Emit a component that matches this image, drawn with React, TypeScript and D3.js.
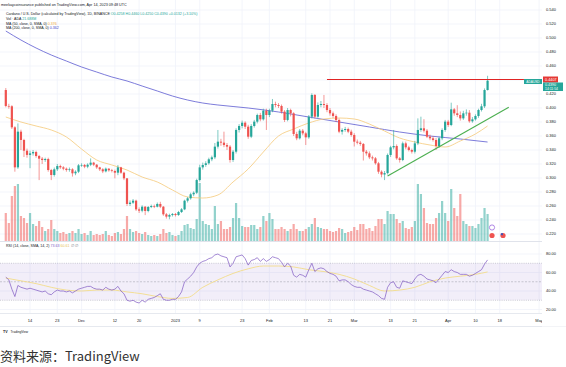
import React from "react";
import * as d3 from "d3";

const width = 566;
const height = 367;
const plotRight = 542;

// daily candles, first day 2022-11-06 (UTC)
const startDate = new Date(Date.UTC(2022, 10, 6));
const firstOpen = 0.4257;
const closes = [
  0.4029, 0.4025, 0.3724, 0.3152, 0.3662, 0.3543, 0.339, 0.333, 0.3352, 0.3371,
  0.3314, 0.3276, 0.3257, 0.3271, 0.3114, 0.3043, 0.3124, 0.3171, 0.3152, 0.3133,
  0.3114, 0.3124, 0.3067, 0.309, 0.3181, 0.3186, 0.3162, 0.319, 0.3219, 0.319,
  0.3152, 0.3124, 0.3095, 0.3133, 0.311, 0.31, 0.3076, 0.3152, 0.3076, 0.2995,
  0.2629, 0.2648, 0.2676, 0.2552, 0.2533, 0.259, 0.2529, 0.2586, 0.26, 0.259,
  0.2629, 0.259, 0.2481, 0.2448, 0.2471, 0.2486, 0.2471, 0.2514, 0.2552, 0.2676,
  0.271, 0.2767, 0.279, 0.2971, 0.3152, 0.3186, 0.321, 0.3267, 0.3295, 0.3448,
  0.3519, 0.3505, 0.3471, 0.3448, 0.3257, 0.3376, 0.3686, 0.3743, 0.379, 0.3733,
  0.359, 0.3743, 0.3805, 0.39, 0.3838, 0.3962, 0.39, 0.3962, 0.4057, 0.4043,
  0.4029, 0.3948, 0.3829, 0.3971, 0.3924, 0.3629, 0.3567, 0.3676, 0.3638, 0.3581,
  0.3876, 0.4186, 0.3876, 0.4043, 0.4057, 0.4043, 0.3971, 0.3924, 0.3886, 0.3829,
  0.3662, 0.3686, 0.37, 0.3662, 0.3614, 0.3519, 0.3505, 0.3486, 0.3376, 0.3352,
  0.3295, 0.3281, 0.321, 0.309, 0.305, 0.307, 0.3329, 0.3438, 0.3457, 0.3281,
  0.3257, 0.3495, 0.3438, 0.34, 0.3376, 0.3495, 0.3686, 0.371, 0.3676, 0.359,
  0.3567, 0.3543, 0.3457, 0.3567, 0.3686, 0.3805, 0.3757, 0.3981, 0.3924, 0.39,
  0.3852, 0.3924, 0.3933, 0.381, 0.3838, 0.3886, 0.3971, 0.4024, 0.4257, 0.439,
];
const highs = [
  0.4285, 0.406, 0.404, 0.374, 0.378, 0.369, 0.356, 0.342, 0.339, 0.34,
  0.339, 0.333, 0.33, 0.329, 0.329, 0.313, 0.315, 0.32, 0.319, 0.317,
  0.315, 0.315, 0.314, 0.311, 0.32, 0.321, 0.32, 0.321, 0.328, 0.323,
  0.32, 0.316, 0.314, 0.315, 0.314, 0.313, 0.312, 0.3186, 0.316, 0.309,
  0.3, 0.268, 0.27, 0.269, 0.258, 0.261, 0.26, 0.26, 0.262, 0.262,
  0.265, 0.266, 0.26, 0.25, 0.249, 0.25, 0.25, 0.253, 0.257, 0.269,
  0.273, 0.279, 0.281, 0.299, 0.319, 0.322, 0.324, 0.329, 0.332, 0.35,
  0.3686, 0.356, 0.3662, 0.35, 0.347, 0.34, 0.371, 0.377, 0.382, 0.381,
  0.376, 0.377, 0.383, 0.392, 0.393, 0.399, 0.399, 0.399, 0.4129, 0.409,
  0.407, 0.405, 0.397, 0.4, 0.399, 0.394, 0.366, 0.37, 0.37, 0.366,
  0.39, 0.421, 0.42, 0.408, 0.41, 0.4186, 0.407, 0.4, 0.395, 0.391,
  0.385, 0.371, 0.373, 0.372, 0.369, 0.364, 0.355, 0.353, 0.35, 0.34,
  0.338, 0.332, 0.33, 0.323, 0.311, 0.31, 0.335, 0.346, 0.3686, 0.348,
  0.33, 0.352, 0.352, 0.346, 0.342, 0.353, 0.3852, 0.3876, 0.384, 0.37,
  0.362, 0.36, 0.357, 0.359, 0.371, 0.383, 0.383, 0.4076, 0.4, 0.404,
  0.395, 0.396, 0.398, 0.397, 0.387, 0.391, 0.399, 0.406, 0.428, 0.446,
];
const lows = [
  0.401, 0.399, 0.37, 0.309, 0.313, 0.34, 0.33, 0.329, 0.314, 0.332,
  0.329, 0.297, 0.32, 0.323, 0.309, 0.297, 0.302, 0.31, 0.313, 0.311,
  0.309, 0.309, 0.302, 0.304, 0.307, 0.316, 0.314, 0.314, 0.317, 0.317,
  0.313, 0.31, 0.307, 0.308, 0.309, 0.308, 0.2995, 0.304, 0.306, 0.297,
  0.26, 0.26, 0.263, 0.253, 0.25, 0.251, 0.247, 0.251, 0.257, 0.257,
  0.258, 0.257, 0.246, 0.242, 0.241, 0.245, 0.245, 0.246, 0.25, 0.254,
  0.265, 0.269, 0.274, 0.277, 0.295, 0.312, 0.316, 0.319, 0.324, 0.327,
  0.342, 0.346, 0.344, 0.34, 0.322, 0.323, 0.335, 0.365, 0.371, 0.37,
  0.356, 0.357, 0.372, 0.378, 0.381, 0.382, 0.3686, 0.387, 0.394, 0.401,
  0.4, 0.392, 0.38, 0.381, 0.388, 0.36, 0.354, 0.355, 0.361, 0.3471,
  0.356, 0.385, 0.385, 0.386, 0.401, 0.4, 0.394, 0.389, 0.386, 0.38,
  0.364, 0.362, 0.366, 0.364, 0.359, 0.345, 0.348, 0.346, 0.325, 0.332,
  0.327, 0.325, 0.319, 0.306, 0.301, 0.297, 0.305, 0.33, 0.341, 0.326,
  0.322, 0.324, 0.341, 0.338, 0.335, 0.335, 0.347, 0.366, 0.365, 0.357,
  0.354, 0.352, 0.34, 0.343, 0.354, 0.366, 0.373, 0.374, 0.389, 0.387,
  0.382, 0.383, 0.389, 0.379, 0.379, 0.382, 0.386, 0.395, 0.4, 0.425,
];
// volume, millions ADA
const volumes = [
  420, 270, 675, 825, 855, 375, 345, 270, 420, 255,
  225, 300, 210, 150, 180, 315, 180, 150, 120, 135,
  105, 120, 150, 120, 180, 105, 120, 90, 150, 90,
  105, 90, 105, 150, 90, 75, 120, 135, 105, 180,
  375, 180, 135, 150, 120, 105, 135, 90, 75, 90,
  75, 105, 180, 120, 135, 90, 75, 90, 150, 240,
  255, 195, 180, 330, 870, 300, 255, 240, 180, 525,
  255, 300, 180, 180, 210, 345, 570, 345, 225, 210,
  210, 240, 240, 180, 210, 375, 300, 420, 330, 180,
  180, 210, 180, 150, 180, 255, 180, 150, 150, 180,
  210, 255, 345, 210, 195, 180, 180, 150, 135, 150,
  195, 180, 120, 135, 150, 210, 165, 255, 255, 180,
  195, 150, 225, 330, 330, 255, 450, 405, 405, 330,
  270, 300, 195, 180, 210, 300, 855, 705, 495, 270,
  255, 255, 345, 420, 600, 420, 300, 780, 495, 375,
  705, 300, 255, 225, 225, 195, 255, 345, 495, 405,
];
const rsiValues = [
  55, 52, 42, 34, 46, 44, 43, 42, 43, 42,
  41, 40, 39, 40, 37, 36, 39, 41, 40, 40,
  39, 40, 38, 40, 42, 43, 44, 45, 45, 43,
  42, 42, 41, 44, 42, 41, 42, 45, 40, 37,
  30, 29, 30, 28, 27, 30, 28, 31, 32, 33,
  35, 37, 31, 30, 30, 31, 31, 34, 39, 50,
  53, 56, 60, 66, 70, 72, 73, 75, 76, 79,
  80, 78, 77, 76, 66, 70, 77, 78, 79, 75,
  68, 73, 74, 76, 72, 75, 72, 74, 77, 76,
  75, 71, 66, 70, 67, 57, 55, 58, 57, 55,
  63, 70, 61, 64, 65, 64, 61, 59, 58, 56,
  51, 52, 52, 50, 47, 45, 44, 44, 42, 41,
  40, 39, 37, 35, 32, 31, 44, 49, 50, 44,
  43, 51, 50, 49, 48, 53, 57, 58, 56, 53,
  52, 51, 49, 53, 57, 61, 60, 63, 61, 60,
  58, 58, 58, 56, 57, 59, 61, 63, 69, 73.63,
];

// indicator lines read at sample days
const sampleDays = [0, 5, 10, 15, 20, 25, 30, 35, 40, 45, 50, 55, 60, 65, 70, 75, 80, 85, 90, 95, 100, 105, 110, 115, 120, 125, 130, 135, 140, 145, 150, 155, 159];
const ma50Values = [0.3871, 0.38, 0.3743, 0.3686, 0.3586, 0.3414, 0.3257, 0.3186, 0.3114, 0.3014, 0.2943, 0.2829, 0.2729, 0.2714, 0.2757, 0.2943, 0.3129, 0.3371, 0.36, 0.37, 0.3786, 0.3843, 0.3857, 0.3843, 0.3771, 0.3671, 0.3571, 0.3514, 0.3471, 0.3443, 0.3529, 0.3629, 0.3743];
const rsiSmaValues = [54, 51, 48, 44, 41, 40, 41, 41, 39, 37, 34, 32, 33, 44, 52, 59, 64, 67, 67, 66, 63, 61, 58, 53, 46, 40, 41, 44, 50, 54, 56, 58, 60.61];
const ma200Days = [0, 5, 10, 15, 20, 25, 30, 35, 40, 45, 50, 55, 60, 65, 70, 80, 90, 100, 110, 120, 130, 140, 150, 159];
const ma200Values = [0.51, 0.4971, 0.4857, 0.4757, 0.4671, 0.4586, 0.4514, 0.4443, 0.4386, 0.4314, 0.4243, 0.4171, 0.4114, 0.4071, 0.4043, 0.4, 0.3943, 0.3871, 0.38, 0.3729, 0.3657, 0.36, 0.3557, 0.3514];

// drawings
const trendDates = ["2023-03-12", "2023-04-21"];
const trendPrices = [0.303, 0.401];
const resistDates = ["2023-02-20", "2023-04-26"];
const resistPrice = 0.4407;

const timeTickDates = ["2022-11-14", "2022-11-23", "2022-12-01", "2022-12-12", "2022-12-20", "2023-01-01", "2023-01-09", "2023-01-23", "2023-02-01", "2023-02-13", "2023-02-21", "2023-03-01", "2023-03-13", "2023-03-21", "2023-04-01", "2023-04-10", "2023-04-18", "2023-05-01"];
const timeTickLabels = ["14", "23", "Dec", "12", "20", "2023", "9", "23", "Feb", "13", "21", "Mar", "13", "21", "Apr", "10", "18", "May"];
const priceTicks = [0.22, 0.24, 0.26, 0.28, 0.3, 0.32, 0.34, 0.36, 0.38, 0.4, 0.42, 0.44, 0.46, 0.48, 0.5, 0.52, 0.54];
const rsiTicks = [20, 40, 60, 80];

const UP = "#26a69a";
const DOWN = "#ef5350";
const GRID = "#f0f3fa";
const FONT = "'Liberation Sans', Arial, sans-serif";

const day = (i) => d3.utcDay.offset(startDate, i);
const parse = (s) => new Date(s + "T00:00:00Z");

const x = d3.scaleUtc().domain([startDate, parse("2023-05-01")]).range([5.8, 5.8 + 3.03 * 176]);
const y = d3.scaleLinear().domain([0.22, 0.54]).range([234, 10]);
const yVol = d3.scaleLinear().domain([0, 900]).range([241, 181]);
const yRsi = d3.scaleLinear().domain([20, 80]).range([309.5, 254]);

const candles = closes.map((c, i) => ({
  date: day(i),
  open: i === 0 ? firstOpen : closes[i - 1],
  close: c,
  high: highs[i],
  low: lows[i],
  volume: volumes[i],
}));

const smooth = d3.curveMonotoneX;
const maLine = d3.line().x((d) => x(day(d[0]))).y((d) => y(d[1])).curve(smooth);
const rsiLine = d3.line().x((d, i) => x(day(i))).y((d) => yRsi(d));
const rsiSmaLine = d3.line().x((d) => x(day(d[0]))).y((d) => yRsi(d[1])).curve(smooth);

const fmtPrice = d3.format(".3f");
const fmtRsi = d3.format(".2f");

export default function App() {
  const bw = 2.2;
  return (
    <div style={{ position: "absolute", left: 0, top: 0 }}>
      <svg width={width} height={height} style={{ display: "block", background: "#fff", fontFamily: FONT }}>
        {/* grid */}
        {priceTicks.map((t) => (
          <line key={"hg" + t} x1={0} x2={plotRight} y1={y(t)} y2={y(t)} stroke={GRID} strokeWidth={0.8} />
        ))}
        {rsiTicks.map((t) => (
          <line key={"rg" + t} x1={0} x2={plotRight} y1={yRsi(t)} y2={yRsi(t)} stroke={GRID} strokeWidth={0.8} />
        ))}
        {timeTickDates.map((d) => (
          <line key={"vg" + d} x1={x(parse(d))} x2={x(parse(d))} y1={0} y2={313} stroke={GRID} strokeWidth={0.8} />
        ))}

        {/* volume */}
        {candles.map((d, i) => (
          <rect key={"v" + i} x={x(d.date) - bw / 2} width={bw} y={yVol(d.volume)} height={yVol(0) - yVol(d.volume)}
            fill={d.close >= d.open ? UP : DOWN} fillOpacity={0.5} />
        ))}

        {/* moving averages */}
        <path d={maLine(ma200Days.map((dd, i) => [dd, ma200Values[i]]))} fill="none" stroke="#5c5bd1" strokeWidth={0.8} />
        <path d={maLine(sampleDays.map((dd, i) => [dd, ma50Values[i]]))} fill="none" stroke="#f5c978" strokeWidth={0.8} />

        {/* candles */}
        {candles.map((d, i) => {
          const col = d.close >= d.open ? UP : DOWN;
          const top = y(Math.max(d.open, d.close));
          const bot = y(Math.min(d.open, d.close));
          return (
            <g key={"c" + i}>
              <line x1={x(d.date)} x2={x(d.date)} y1={y(d.high)} y2={y(d.low)} stroke={col} strokeWidth={0.6} />
              <rect x={x(d.date) - bw / 2} width={bw} y={top} height={Math.max(0.6, bot - top)} fill={col} />
            </g>
          );
        })}

        {/* drawings */}
        <line x1={x(parse(trendDates[0]))} y1={y(trendPrices[0])} x2={x(parse(trendDates[1]))} y2={y(trendPrices[1])}
          stroke="#4caf50" strokeWidth={1.1} />
        <line x1={x(parse(resistDates[0]))} x2={x(parse(resistDates[1]))} y1={y(resistPrice)} y2={y(resistPrice)}
          stroke="#e02424" strokeWidth={1.1} />
        <rect x={524} y={y(resistPrice) - 0.5} width={18} height={5} fill={UP} />
        <text x={533} y={y(resistPrice) + 3.2} fontSize={3.2} fill="#fff" textAnchor="middle">ADAUSD</text>

        {/* event icons */}
        <circle cx={492} cy={227.5} r={2.6} fill="#fff" stroke="#9c6ade" strokeWidth={0.8} />
        <circle cx={492} cy={235.5} r={2.6} fill="#ef5350" />
        <circle cx={503} cy={235.5} r={2.6} fill="#ef5350" />
        <rect x={500.8} y={233.2} width={2.2} height={2} fill="#3f51b5" />

        {/* pane separators */}
        <line x1={0} x2={width} y1={241.5} y2={241.5} stroke="#e0e3eb" strokeWidth={1} />
        <line x1={0} x2={width} y1={313.5} y2={313.5} stroke="#e0e3eb" strokeWidth={0.8} />
        <line x1={0} x2={width} y1={326.5} y2={326.5} stroke="#e0e3eb" strokeWidth={0.8} />

        {/* RSI pane */}
        <rect x={0} width={plotRight} y={yRsi(70)} height={yRsi(30) - yRsi(70)} fill="#7e57c2" fillOpacity={0.1} />
        {[70, 50, 30].map((v) => (
          <line key={"rb" + v} x1={0} x2={plotRight} y1={yRsi(v)} y2={yRsi(v)} stroke="#787b86" strokeOpacity={0.6}
            strokeWidth={0.6} strokeDasharray={v === 50 ? "2,1.5" : "1,1.2"} />
        ))}
        <path d={rsiSmaLine(sampleDays.map((dd, i) => [dd, rsiSmaValues[i]]))} fill="none" stroke="#f3dc8a" strokeWidth={0.9} />
        <path d={rsiLine(rsiValues)} fill="none" stroke="#7e57c2" strokeWidth={0.7} />

        {/* price axis */}
        <rect x={plotRight} y={0} width={width - plotRight} height={326} fill="#fff" />
        {priceTicks.map((t) => (
          <text key={"pt" + t} x={546} y={y(t) + 1.4} fontSize={4} fill="#131722">{fmtPrice(t)}</text>
        ))}
        {rsiTicks.map((t) => (
          <text key={"rt" + t} x={546} y={yRsi(t) + 1.4} fontSize={4} fill="#131722">{fmtRsi(t)}</text>
        ))}
        <rect x={543} y={y(resistPrice) - 3} width={15} height={6} fill="#e53935" />
        <text x={545} y={y(resistPrice) + 1.4} fontSize={3.8} fill="#fff">0.4407</text>
        <rect x={543} y={y(resistPrice) + 3} width={20} height={8.5} fill={UP} />
        <text x={545} y={y(resistPrice) + 6.6} fontSize={3.6} fill="#fff">{fmtPrice(closes[closes.length - 1])}0</text>
        <text x={545} y={y(resistPrice) + 10.3} fontSize={3.4} fill="#fff">14:11:54</text>

        {/* time axis */}
        {timeTickDates.map((d, i) => (
          <text key={"tt" + d} x={x(parse(d))} y={322} fontSize={4} fill="#131722" textAnchor="middle">{timeTickLabels[i]}</text>
        ))}
        <rect x={plotRight} y={313.5} width={width - plotRight} height={13} fill="#fff" />

        {/* legends */}
        <text x={1} y={5.8} fontSize={3.7} fill="#131722">meekaycoinsurance published on TradingView.com, Apr 14, 2023 09:48 UTC</text>
        <text x={6} y={15.3} fontSize={3.6} fill="#131722">
          Cardano / U.S. Dollar (calculated by TradingView), 1D, BINANCE
          <tspan fill={UP}>{"  "}O0.4258 H0.4460 L0.4250 C0.4390 +0.0132 (+3.10%)</tspan>
        </text>
        <text x={6} y={20} fontSize={3.6} fill="#131722">Vol · ADA <tspan fill={UP}> 21.688M</tspan></text>
        <text x={6} y={24.7} fontSize={3.6} fill="#131722">MA (50, close, 0, SMA, 0) <tspan fill="#f0a830"> 0.376</tspan></text>
        <text x={6} y={29.4} fontSize={3.6} fill="#131722">MA (200, close, 0, SMA, 0) <tspan fill="#3f3fc8"> 0.362</tspan></text>
        <text x={6} y={246.5} fontSize={3.6} fill="#131722">
          RSI (14, close, SMA, 14, 2)
          <tspan fill="#7e57c2">{"  "}73.63</tspan>
          <tspan fill="#e8c25a">{"  "}60.61</tspan>
          <tspan fill="#787b86">{"  "}∅ ∅</tspan>
        </text>

        {/* logo */}
        <text x={3} y={332.5} fontSize={3.6} fontWeight="bold" fill="#131722">TV</text>
        <text x={10.5} y={332.5} fontSize={3.2} fill="#131722">TradingView</text>

        {/* caption */}
        <text x={0} y={360.5} fontSize={13} fill="#333" fontFamily="'Noto Sans CJK SC', 'Noto Sans', sans-serif">资料来源：TradingView</text>
      </svg>
    </div>
  );
}
